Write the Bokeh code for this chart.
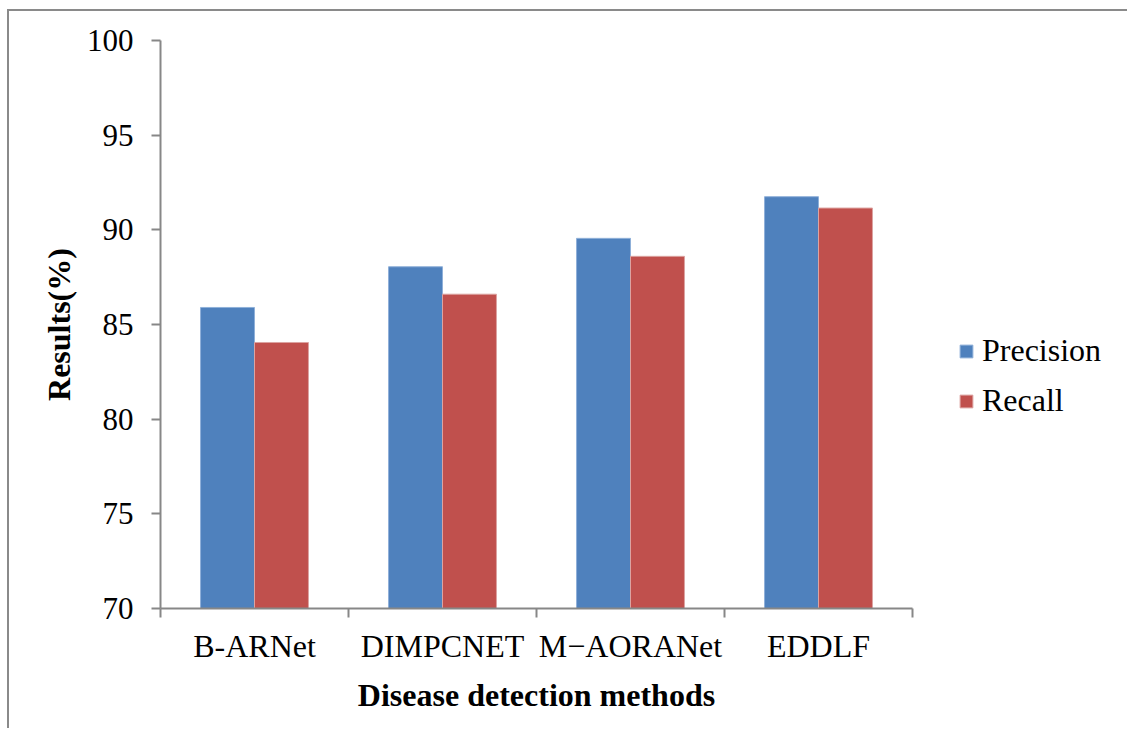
import numpy as np
from bokeh.plotting import figure
from bokeh.models import Range1d, FixedTicker, Legend, LegendItem
from bokeh.embed import file_html
from bokeh.resources import INLINE

methods = ["B-ARNet", "DIMPCNET", "M\u2212AORANet", "EDDLF"]
precision = [85.9, 88.05, 89.55, 91.75]
recall = [84.05, 86.6, 88.6, 91.15]
y_ticks = [70, 75, 80, 85, 90, 95, 100]

BLUE = "#4F81BD"
RED = "#C0504D"
GREY = "#878787"
FONT = "Liberation Serif"

n = len(methods)
centers = np.arange(n) + 0.5
bar_w = 0.287
off = bar_w / 2

p = figure(frame_width=752, frame_height=568,
           min_border_left=151, min_border_top=29, min_border_right=200, min_border_bottom=120,
           x_range=Range1d(0, n), y_range=Range1d(y_ticks[0], y_ticks[-1]),
           output_backend="svg", toolbar_location=None,
           margin=(9, 0, 0, 7),
           styles={"border-left": "2px solid #8a8a8a", "border-top": "2px solid #8a8a8a"})

r1 = p.vbar(x=centers - off, top=precision, bottom=y_ticks[0], width=bar_w,
            fill_color=BLUE, line_color="#8fb0d9", line_width=1)
r2 = p.vbar(x=centers + off, top=recall, bottom=y_ticks[0], width=bar_w,
            fill_color=RED, line_color="#dca3a1", line_width=1)

p.xgrid.visible = False
p.ygrid.visible = False
p.outline_line_color = None
p.background_fill_color = "white"
p.border_fill_color = "white"

# x axis
xa = p.xaxis[0]
xa.ticker = FixedTicker(ticks=list(centers), minor_ticks=list(np.arange(n + 1)))
xa.major_label_overrides = {float(c): m for c, m in zip(centers, methods)}
xa.major_tick_out = 0
xa.major_tick_in = 0
xa.minor_tick_out = 9
xa.minor_tick_in = 0
xa.minor_tick_line_color = GREY
xa.minor_tick_line_width = 2
xa.axis_line_color = GREY
xa.axis_line_width = 2
xa.major_label_standoff = 10
xa.major_label_text_font = FONT
xa.major_label_text_font_size = "32px"
xa.major_label_text_color = "black"
xa.axis_label = "Disease detection methods"
xa.axis_label_text_font = FONT
xa.axis_label_text_font_size = "32px"
xa.axis_label_text_font_style = "bold"
xa.axis_label_text_color = "black"
xa.axis_label_standoff = 10

# y axis
ya = p.yaxis[0]
ya.ticker = FixedTicker(ticks=y_ticks)
ya.major_tick_out = 9
ya.major_tick_in = 0
ya.minor_tick_out = 0
ya.minor_tick_in = 0
ya.major_tick_line_color = GREY
ya.major_tick_line_width = 2
ya.axis_line_color = GREY
ya.axis_line_width = 2
ya.major_label_standoff = 18
ya.major_label_text_font = FONT
ya.major_label_text_font_size = "31px"
ya.major_label_text_color = "black"
ya.axis_label = "Results(%)"
ya.axis_label_text_font = FONT
ya.axis_label_text_font_size = "32px"
ya.axis_label_text_font_style = "bold"
ya.axis_label_text_color = "black"
ya.axis_label_standoff = 7

legend = Legend(items=[LegendItem(label="Precision", renderers=[r1]),
                       LegendItem(label="Recall", renderers=[r2])],
                location=(46, 189), orientation="vertical")
legend.label_text_font = FONT
legend.label_text_font_size = "32px"
legend.label_text_color = "black"
legend.glyph_width = 16
legend.glyph_height = 16
legend.label_standoff = 8
legend.spacing = 13
legend.padding = 0
legend.margin = 46
legend.border_line_color = None
legend.background_fill_alpha = 0
p.add_layout(legend, "right")

open("out.html", "w").write(file_html(p, INLINE))
